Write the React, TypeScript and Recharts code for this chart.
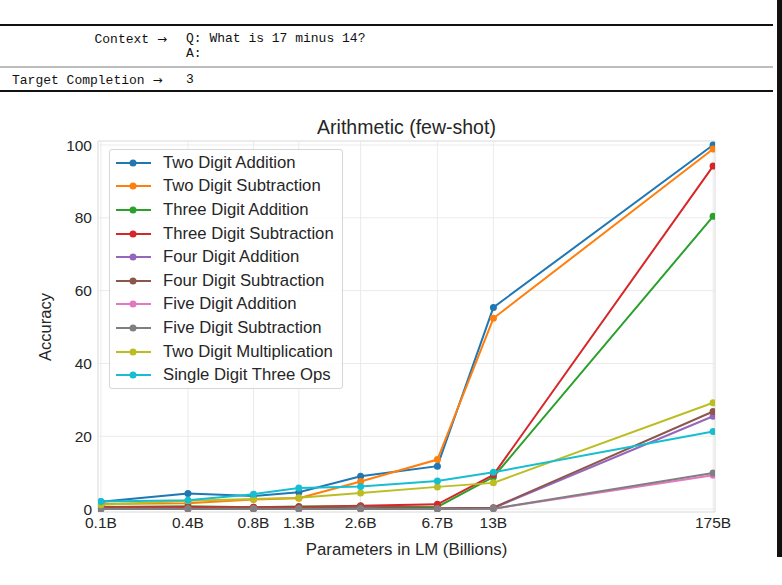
import React from 'react';
import { LineChart, Line, XAxis, YAxis, CartesianGrid, ReferenceArea } from 'recharts';

const sizes = [0.125, 0.35, 0.76, 1.3, 2.7, 6.7, 13, 175];
const sizeLabels = ['0.1B', '0.4B', '0.8B', '1.3B', '2.6B', '6.7B', '13B', '175B'];
const yTicks = [0, 20, 40, 60, 80, 100];

const twoDigitAddition = [2.0, 4.3, 3.6, 4.6, 9.0, 11.8, 55.4, 100.0];
const twoDigitSubtraction = [1.4, 1.6, 2.6, 3.0, 7.6, 13.6, 52.4, 98.9];
const threeDigitAddition = [0.6, 0.8, 0.5, 0.7, 0.8, 0.6, 8.8, 80.4];
const threeDigitSubtraction = [0.5, 0.6, 0.5, 0.6, 0.9, 1.3, 9.4, 94.2];
const fourDigitAddition = [0.1, 0.1, 0.1, 0.1, 0.2, 0.1, 0.3, 25.5];
const fourDigitSubtraction = [0.2, 0.2, 0.2, 0.3, 0.7, 0.2, 0.4, 26.8];
const fiveDigitAddition = [0.0, 0.0, 0.0, 0.0, 0.0, 0.0, 0.1, 9.3];
const fiveDigitSubtraction = [0.0, 0.0, 0.0, 0.0, 0.0, 0.0, 0.1, 9.9];
const twoDigitMultiplication = [1.2, 2.3, 2.8, 3.1, 4.4, 6.1, 7.2, 29.2];
const singleDigitThreeOps = [2.1, 2.4, 4.1, 5.8, 6.2, 7.7, 10.1, 21.3];

const seriesNames = [
  'Two Digit Addition',
  'Two Digit Subtraction',
  'Three Digit Addition',
  'Three Digit Subtraction',
  'Four Digit Addition',
  'Four Digit Subtraction',
  'Five Digit Addition',
  'Five Digit Subtraction',
  'Two Digit Multiplication',
  'Single Digit Three Ops',
];
const seriesValues = [
  twoDigitAddition,
  twoDigitSubtraction,
  threeDigitAddition,
  threeDigitSubtraction,
  fourDigitAddition,
  fourDigitSubtraction,
  fiveDigitAddition,
  fiveDigitSubtraction,
  twoDigitMultiplication,
  singleDigitThreeOps,
];
const colors = ['#1f77b4', '#ff7f0e', '#2ca02c', '#d62728', '#9467bd', '#8c564b', '#e377c2', '#7f7f7f', '#bcbd22', '#17becf'];

const data = sizes.map((x, i) => {
  const row: Record<string, number> = { x };
  seriesValues.forEach((vals, k) => {
    row['s' + k] = vals[i];
  });
  return row;
});

const FONT = '"Liberation Sans", Arial, sans-serif';
const TXT = '#262626';
const mono = '"Liberation Mono", "Courier New", monospace';

const LegendBox = () => (
  <div
    style={{
      position: 'absolute',
      left: 109,
      top: 149,
      width: 234,
      height: 240,
      border: '1px solid #d6d6d6',
      borderRadius: 3,
      background: 'rgba(255,255,255,0.85)',
      boxSizing: 'border-box',
      paddingTop: 1,
      fontFamily: FONT,
    }}
  >
    {seriesNames.map((name, k) => (
      <div key={name} style={{ height: 23.6, display: 'flex', alignItems: 'center' }}>
        <svg width={48} height={12} style={{ marginLeft: 5, flex: 'none' }}>
          <line x1={1} y1={6} x2={36} y2={6} stroke={colors[k]} strokeWidth={2} />
          <circle cx={18} cy={6} r={3.5} fill={colors[k]} />
        </svg>
        <span style={{ fontSize: 16.7, color: TXT, whiteSpace: 'nowrap' }}>{name}</span>
      </div>
    ))}
  </div>
);

const Arrow = () => <span style={{ fontFamily: '"DejaVu Sans", sans-serif', fontSize: 12 }}>→</span>;

const tableText: React.CSSProperties = {
  position: 'absolute',
  fontFamily: mono,
  fontSize: 13,
  color: '#111',
  whiteSpace: 'pre',
  lineHeight: '16px',
};

export default function App() {
  return (
    <div style={{ position: 'absolute', left: 0, top: 0, width: 782, height: 585, background: '#fff', overflow: 'hidden' }}>
      {/* table header */}
      <div style={{ position: 'absolute', left: 0, top: 24, width: 773, height: 2, background: '#111' }} />
      <div style={{ position: 'absolute', left: 0, top: 66, width: 773, height: 2, background: '#bdbdbd' }} />
      <div style={{ position: 'absolute', left: 0, top: 90, width: 773, height: 2, background: '#111' }} />
      <div style={{ position: 'absolute', left: 777, top: 0, width: 5, height: 557, background: '#111' }} />
      <div style={{ ...tableText, left: 0, top: 31, width: 167, textAlign: 'right' }}>
        Context <Arrow />
      </div>
      <div style={{ ...tableText, left: 186, top: 31 }}>Q: What is 17 minus 14?</div>
      <div style={{ ...tableText, left: 186, top: 46 }}>A:</div>
      <div style={{ ...tableText, left: 12, top: 72 }}>
        Target Completion <Arrow />
      </div>
      <div style={{ ...tableText, left: 186, top: 72 }}>3</div>

      {/* chart */}
      <div style={{ position: 'absolute', left: 0, top: 0 }}>
        <LineChart width={782} height={585} data={data} margin={{ top: 141, right: 67, bottom: 43, left: 38 }}>
          <CartesianGrid stroke="#ebebeb" strokeWidth={1} />
          <ReferenceArea x1={0.1207} x2={179} y1={-0.8} y2={101.1} fill="none" stroke="#e3e3e3" strokeWidth={1} ifOverflow="visible" />
          <XAxis
            dataKey="x"
            type="number"
            scale="log"
            domain={[0.1207, 179]}
            allowDataOverflow
            ticks={sizes}
            tickFormatter={(v: number) => sizeLabels[sizes.indexOf(v)] ?? ''}
            interval={0}
            axisLine={false}
            tickLine={false}
            tickSize={0}
            tickMargin={5}
            height={30}
            tick={{ fill: TXT, fontSize: 15.5, fontFamily: FONT }}
          />
          <YAxis
            type="number"
            domain={[-0.8, 101.1]}
            allowDataOverflow
            ticks={yTicks}
            interval={0}
            axisLine={false}
            tickLine={false}
            tickSize={0}
            tickMargin={6}
            width={60}
            tick={{ fill: TXT, fontSize: 15.5, fontFamily: FONT }}
          />
          {seriesNames.map((name, k) => (
            <Line
              key={name}
              name={name}
              dataKey={'s' + k}
              stroke={colors[k]}
              strokeWidth={2}
              dot={{ r: 3.5, fill: colors[k], stroke: colors[k], strokeWidth: 0 }}
              activeDot={false}
              isAnimationActive={false}
            />
          ))}
        </LineChart>
      </div>

      <LegendBox />

      {/* title and axis labels */}
      <div style={{ position: 'absolute', left: 98, top: 115, width: 617, textAlign: 'center', fontFamily: FONT, fontSize: 19.5, color: TXT, lineHeight: '24px' }}>
        Arithmetic (few-shot)
      </div>
      <div style={{ position: 'absolute', left: 98, top: 540, width: 617, textAlign: 'center', fontFamily: FONT, fontSize: 16.8, color: TXT, lineHeight: '20px' }}>
        Parameters in LM (Billions)
      </div>
      <div
        style={{
          position: 'absolute',
          left: 45 - 60,
          top: 327 - 10,
          width: 120,
          textAlign: 'center',
          fontFamily: FONT,
          fontSize: 16.5,
          color: TXT,
          lineHeight: '20px',
          transform: 'rotate(-90deg)',
          transformOrigin: '60px 10px',
        }}
      >
        Accuracy
      </div>
    </div>
  );
}
